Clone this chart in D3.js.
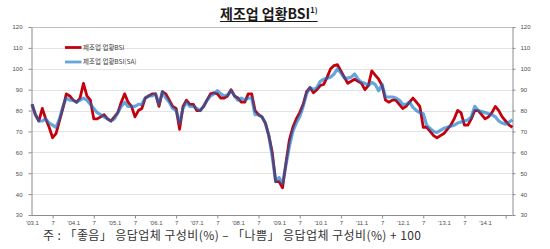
<!DOCTYPE html>
<html>
<head>
<meta charset="utf-8">
<script src="https://cdn.jsdelivr.net/npm/d3@7"></script>
<style>
body { margin: 0; background: #fff; }
svg { display: block; font-family: "Noto Sans CJK KR", "Noto Sans", sans-serif; }
</style>
</head>
<body>
<div id="chart"></div>
<script>
// categories: monthly, 2003.1 ~ 2014.9
var years = [2003, 2004, 2005, 2006, 2007, 2008, 2009, 2010, 2011, 2012, 2013, 2014];
var monthNums = [1, 2, 3, 4, 5, 6, 7, 8, 9, 10, 11, 12];
var lastMonth = 9;

// 제조업 업황BSI (original)
var bsi2003 = [83, 78, 75, 81, 76, 72, 67, 69, 75, 81, 88, 87];
var bsi2004 = [85, 84, 86, 93, 87, 85, 76, 76, 77, 78, 76, 75];
var bsi2005 = [77, 79, 84, 88, 84, 82, 77, 80, 81, 86, 87, 88];
var bsi2006 = [88, 82, 89, 88, 85, 82, 81, 71, 82, 85, 83, 83];
var bsi2007 = [80, 80, 82, 85, 88, 88.5, 88, 86, 86, 87, 90, 87];
var bsi2008 = [86, 84, 84, 88, 88, 80, 78, 77, 74, 68, 60, 46];
var bsi2009 = [46, 43, 55, 66, 72, 76, 79, 83, 89, 91, 88.5, 90];
var bsi2010 = [92, 92.5, 96, 100, 101.5, 102, 99, 96, 93, 94, 95, 94];
var bsi2011 = [93, 90, 92, 99, 97, 95, 92, 85, 84, 85, 85, 83];
var bsi2012 = [81, 82, 84, 86, 84, 82, 72, 72, 70, 68, 67, 68];
var bsi2013 = [69, 71, 73, 76, 80, 79, 73, 73, 76, 80, 80, 78];
var bsi2014 = [76, 77, 79, 82, 80, 77, 75, 73, 72];

// 제조업 업황BSI(SA)
var sa2003 = [83, 78, 75, 75, 76, 74, 73, 72, 76, 82, 86, 85];
var sa2004 = [85, 84, 85, 86, 85, 83, 81, 79, 78, 77, 76, 75];
var sa2005 = [76, 79, 82, 84, 82, 82, 82, 83, 83, 86, 87, 87];
var sa2006 = [88, 83, 89, 86, 84, 81, 80, 74, 81, 84, 82, 82];
var sa2007 = [81, 80, 82, 85, 87, 88, 89.5, 88, 87, 87.5, 89.5, 87];
var sa2008 = [85, 86, 85, 86, 86, 78, 78, 77, 74, 68, 58, 46];
var sa2009 = [48, 45, 54, 63, 70, 74, 77, 82, 88, 91, 90, 91];
var sa2010 = [94, 95, 95.5, 96, 97.5, 100, 98, 95.5, 95.5, 96, 97.5, 95];
var sa2011 = [93.5, 93, 92, 93.5, 92.5, 89.5, 92.5, 86.5, 86.5, 86.5, 86, 85];
var sa2012 = [83, 83, 84, 81.5, 80, 79, 78.5, 73, 71.5, 70, 69.5, 70.5];
var sa2013 = [71.5, 72, 72.5, 73, 74, 74.5, 75, 75.5, 77, 82, 80, 79.5];
var sa2014 = [79, 78.5, 78, 77, 75, 74, 73.5, 74.5, 75.5];

var yTicks = [30, 40, 50, 60, 70, 80, 90, 100, 110, 120];
var xLabelCats = ['2003.1', '2003.7', '2004.1', '2004.7', '2005.1', '2005.7', '2006.1', '2006.7',
  '2007.1', '2007.7', '2008.1', '2008.7', '2009.1', '2009.7', '2010.1', '2010.7',
  '2011.1', '2011.7', '2012.1', '2012.7', '2013.1', '2013.7', '2014.1'];
var xLabels = ["'03.1", '7', "'04.1", '7', "'05.1", '7', "'06.1", '7', "'07.1", '7', "'08.1", '7',
  "'09.1", '7', "'10.1", '7', "'11.1", '7', "'12.1", '7', "'13.1", '7', "'14.1"];
var xTickCats = ['2003.7', '2004.7', '2005.7', '2006.7', '2007.7', '2008.7', '2009.7',
  '2010.7', '2011.7', '2012.7', '2013.7', '2014.7'];

var bsi = [].concat(bsi2003, bsi2004, bsi2005, bsi2006, bsi2007, bsi2008,
  bsi2009, bsi2010, bsi2011, bsi2012, bsi2013, bsi2014);
var bsiSA = [].concat(sa2003, sa2004, sa2005, sa2006, sa2007, sa2008,
  sa2009, sa2010, sa2011, sa2012, sa2013, sa2014);

var categories = [];
years.forEach(function(yr) {
  monthNums.forEach(function(m) {
    if (yr < 2014 || m <= lastMonth) categories.push(yr + '.' + m);
  });
});

var chart_width = 550;
var chart_height = 249;
var svg = d3
  .select('#chart')
  .append('svg')
  .attr('width', chart_width)
  .attr('height', chart_height);

// scales
var x_scale = d3.scalePoint().domain(categories).range([32, 512.5]);
var y_scale = d3.scaleLinear().domain([30, 120]).range([215, 27]);

// gridlines
svg
  .append('g')
  .selectAll('line')
  .data(yTicks.slice(1))
  .enter()
  .append('line')
  .attr('x1', 31)
  .attr('x2', 512.5)
  .attr('y1', function(d) { return Math.round(y_scale(d)) + 0.5; })
  .attr('y2', function(d) { return Math.round(y_scale(d)) + 0.5; })
  .attr('stroke', function(d) { return d === 120 ? '#bfbfbf' : '#e3e3e3'; })
  .attr('stroke-width', 1);

// axes
function styleAxis(g) {
  g.selectAll('.domain').attr('stroke', '#8c8c8c');
  g.selectAll('.tick line').attr('stroke', '#8c8c8c');
  g.selectAll('text')
    .attr('fill', '#4d4d4d')
    .style('font-family', '"Liberation Sans", Arial, sans-serif')
    .style('font-size', '6px');
}

svg
  .append('g')
  .attr('transform', 'translate(31.5,0)')
  .call(d3.axisLeft(y_scale).tickValues(yTicks).tickSize(3).tickSizeOuter(0).tickPadding(6))
  .call(styleAxis);

svg
  .append('g')
  .attr('transform', 'translate(512.5,0)')
  .call(d3.axisRight(y_scale).tickValues(yTicks).tickSize(3).tickSizeOuter(0).tickPadding(5))
  .call(styleAxis);

svg
  .append('g')
  .attr('transform', 'translate(0,215.5)')
  .call(d3.axisBottom(x_scale).tickValues(xTickCats).tickSize(3).tickSizeOuter(0).tickFormat(''))
  .call(styleAxis)
  .select('.domain')
  .attr('d', 'M31.5,0H512.5');

svg
  .append('g')
  .attr('transform', 'translate(0,215.5)')
  .call(d3.axisBottom(x_scale).tickValues(xLabelCats).tickSize(0).tickPadding(5)
    .tickFormat(function(d, i) { return xLabels[i]; }))
  .call(styleAxis)
  .select('.domain')
  .remove();

// lines
var line = d3
  .line()
  .x(function(d, i) { return x_scale(categories[i]); })
  .y(function(d) { return y_scale(d); });

svg
  .append('path')
  .datum(bsi)
  .attr('d', line)
  .attr('fill', 'none')
  .attr('stroke', '#c4000c')
  .attr('stroke-width', 2.8)
  .attr('stroke-linejoin', 'round');

svg
  .append('path')
  .datum(bsiSA)
  .attr('d', line)
  .attr('fill', 'none')
  .attr('stroke', 'rgb(10,112,198)')
  .attr('stroke-opacity', 0.62)
  .attr('stroke-width', 3.2)
  .attr('stroke-linejoin', 'round');

// legend
var legend = [
  { name: '제조업 업황BSI', color: '#c4000c', op: 1, y: 47.5 },
  { name: '제조업 업황BSI(SA)', color: 'rgb(10,112,198)', op: 0.62, y: 62 }
];
var lg = svg.append('g').selectAll('g').data(legend).enter().append('g');
lg.append('line')
  .attr('x1', 65)
  .attr('x2', 81.5)
  .attr('y1', function(d) { return d.y; })
  .attr('y2', function(d) { return d.y; })
  .attr('stroke', function(d) { return d.color; })
  .attr('stroke-opacity', function(d) { return d.op; })
  .attr('stroke-width', 2.8);
lg.append('text')
  .attr('x', 83)
  .attr('y', function(d) { return d.y + 2.3; })
  .attr('fill', '#404040')
  .style('font-size', '6.5px')
  .text(function(d) { return d.name; });

// title
var title = svg
  .append('text')
  .attr('x', 220)
  .attr('y', 19)
  .attr('fill', '#1a1a1a')
  .style('font-size', '14px')
  .style('font-weight', 'bold');
title.append('tspan').text('제조업 업황BSI');
title.append('tspan').attr('dy', -6).style('font-size', '7.5px').text('1)');
var tb = title.node().getBBox();
svg
  .append('line')
  .attr('x1', 220)
  .attr('x2', tb.x + tb.width)
  .attr('y1', 21.5)
  .attr('y2', 21.5)
  .attr('stroke', '#1a1a1a')
  .attr('stroke-width', 1);

// footnote
svg
  .append('text')
  .attr('x', 43)
  .attr('y', 239.5)
  .attr('fill', '#333')
  .attr('textLength', 378)
  .attr('lengthAdjust', 'spacing')
  .style('font-size', '12px')
  .text('주 : 「좋음」 응답업체 구성비(%) – 「나쁨」 응답업체 구성비(%)  +  100');
</script>
</body>
</html>
